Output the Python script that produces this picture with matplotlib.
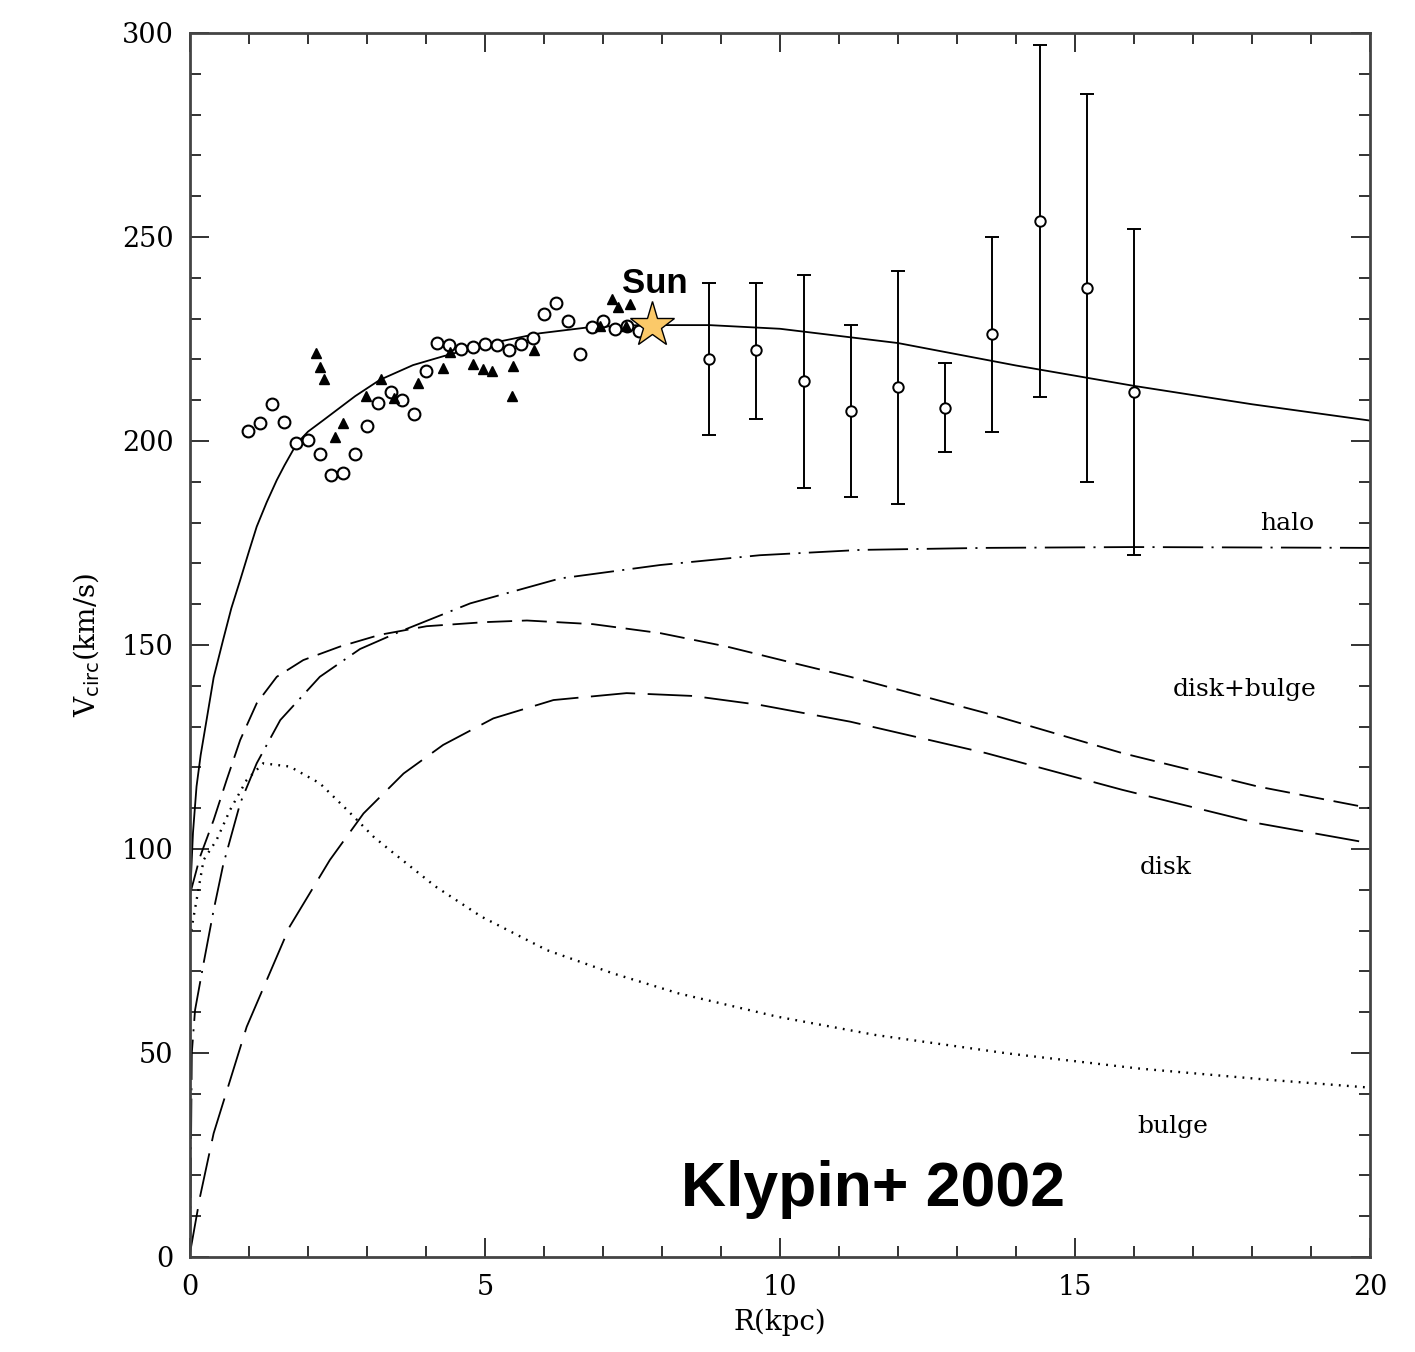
import numpy as np
import matplotlib
matplotlib.use("Agg")
import matplotlib.pyplot as plt
from matplotlib.ticker import MultipleLocator

plt.rcParams['lines.scale_dashes'] = False

# open circles (HI / CO terminal velocities)
R_circ = [0.98, 1.19, 1.39, 1.59, 1.80, 2.0, 2.2, 2.39, 2.59, 2.80, 3.0, 3.19, 3.41, 3.59, 3.80,
          4.0, 4.19, 4.39, 4.59, 4.80, 5.0, 5.2, 5.41, 5.61, 5.81, 6.0, 6.2, 6.41, 6.61, 6.81,
          7.0, 7.2, 7.41, 7.61]
V_circ = [202.5, 204.4, 209, 204.7, 199.5, 200.2, 196.8, 191.7, 192.2, 196.8, 203.7, 209.3, 212, 210, 206.6,
          217.2, 224, 223.5, 222.5, 223, 223.8, 223.5, 222.3, 223.8, 225.2, 231.1, 233.8, 229.4, 221.3, 228,
          229.4, 227.5, 228.2, 227]

# filled triangles
R_tri = [2.14, 2.2, 2.27, 2.46, 2.59, 2.98, 3.24, 3.45, 3.86, 4.29, 4.41, 4.80, 4.97, 5.12, 5.47, 5.46,
         5.83, 7.15, 7.25, 7.46, 7.39, 6.95]
V_tri = [221.6, 218.1, 215.2, 201, 204.4, 211, 215.2, 210.5, 214.2, 217.9, 221.8, 218.9, 217.6, 217.2, 218.4, 211,
         222.3, 234.8, 232.8, 233.6, 228.2, 228.2]

# outer points with error bars
R_err = [8.8, 9.6, 10.4, 11.2, 12.0, 12.8, 13.6, 14.4, 15.2, 16.0]
V_err = [220.1, 222.3, 214.7, 207.4, 213.2, 208.1, 226.2, 253.9, 237.5, 212.0]
V_hi = [238.7, 238.7, 240.7, 228.4, 241.7, 219.1, 250.0, 297.0, 285.0, 252.0]
V_lo = [201.5, 205.4, 188.5, 186.3, 184.6, 197.3, 202.2, 210.8, 190.0, 172.0]

# model curves
R_total = [0.0, 0.05, 0.11, 0.18, 0.28, 0.4, 0.56, 0.7, 0.85, 1.0, 1.13, 1.3, 1.47, 1.6, 1.81, 2.0,
           2.26, 2.8, 3.22, 3.78, 4.3, 5.08, 5.93, 6.78, 7.63, 8.8, 10.0, 12.0, 14.0, 16.0, 18.0, 20.0]
V_total = [88, 104, 115.3, 123, 131.6, 142, 151.2, 159, 165.9, 173, 179, 185, 190.4, 194, 199.4, 202.3,
           205.1, 211, 215, 218.6, 220.8, 223.9, 226.4, 227.9, 228.4, 228.4, 227.5, 224, 218.5, 213.5, 209, 205]

R_halo = [0.0, 0.03, 0.085, 0.23, 0.4, 0.56, 0.85, 1.13, 1.53, 2.2, 2.88, 3.56, 4.75, 6.27,
          7.97, 9.66, 11.36, 13.5, 16.0, 20.0]
V_halo = [0, 50, 60.5, 72, 85, 96, 111.2, 121, 131.6, 142.2, 149, 153.3, 160.2, 166.3,
          169.6, 172, 173.3, 173.8, 174, 173.8]

R_db = [0.02, 0.17, 0.4, 0.62, 0.85, 1.13, 1.47, 1.92, 2.54, 3.22, 4.01, 5.0, 5.71, 6.83,
        7.97, 9.1, 10.22, 11.19, 13.49, 15.8, 18.1, 20.0]
V_db = [90, 98.1, 107.1, 116.9, 126.7, 135.7, 142.2, 146.3, 149.6, 152.5, 154.6, 155.6, 156, 155.1,
        152.9, 149.6, 145.6, 142.2, 133.3, 123.5, 115.3, 110]

R_disk = [0.0, 0.17, 0.4, 0.96, 1.69, 2.37, 2.94, 3.62, 4.29, 5.14, 6.16, 7.4, 8.53, 9.66,
          11.19, 13.49, 15.8, 18.1, 20.0]
V_disk = [1, 14.8, 30.3, 56.4, 81, 97.3, 108.7, 118.5, 125.5, 132, 136.5, 138.2, 137.5, 135.3,
          131.2, 123.5, 114.5, 106.3, 101.4]

R_bulge = [0.02, 0.23, 0.45, 0.68, 0.96, 1.24, 1.69, 2.2, 2.66, 3.11, 3.38, 4.16, 4.94, 6.05,
           7.17, 8.28, 9.95, 11.62, 13.85, 16.07, 18.3, 20.0]
V_bulge = [80, 97.3, 102.2, 109.6, 116.9, 121, 120.2, 116.1, 109.6, 103, 99.8, 90.8, 83.4, 75.2,
           69.5, 64.6, 58.9, 54.4, 49.9, 46.2, 43.4, 41.5]

R_sun, V_sun = 7.83, 228.4

fig = plt.figure(figsize=(14.15, 13.52), dpi=100)
ax = fig.add_axes([0.1343, 0.0703, 0.8339, 0.9053])

lw = 1.3
ax.plot(R_total, V_total, color='black', lw=lw)
ax.plot(R_halo, V_halo, color='black', lw=lw, ls=(0, (29, 6, 1.5, 6)))
ax.plot(R_db, V_db, color='black', lw=lw, ls=(0, (18, 7)))
ax.plot(R_disk, V_disk, color='black', lw=lw, ls=(0, (32, 9)))
ax.plot(R_bulge, V_bulge, color='black', lw=1.7, ls=(0, (1.3, 4.5)))

ax.plot(R_circ, V_circ, ls='none', marker='o', ms=8.5, mfc='white', mec='black', mew=1.5)
ax.plot(R_tri, V_tri, ls='none', marker='^', ms=6.5, color='black')

yerr = [np.array(V_err) - np.array(V_lo), np.array(V_hi) - np.array(V_err)]
ax.errorbar(R_err, V_err, yerr=yerr, fmt='o', ms=7.5, mfc='white', mec='black', mew=1.4,
            ecolor='black', elinewidth=1.4, capsize=5, capthick=1.4)

ax.plot([R_sun], [V_sun], marker='*', ms=34, mfc='#FBC969', mec='black', mew=1.0, zorder=5)
ax.text(R_sun + 0.05, 238.5, 'Sun', fontsize=25, fontweight='bold', family='Liberation Sans',
        ha='center', va='center')

serif = 'DejaVu Serif'
ax.text(18.6, 179.7, 'halo', fontsize=18, family=serif, ha='center', va='center')
ax.text(17.87, 139.2, 'disk+bulge', fontsize=18, family=serif, ha='center', va='center')
ax.text(16.54, 95.5, 'disk', fontsize=18, family=serif, ha='center', va='center')
ax.text(16.66, 31.9, 'bulge', fontsize=18, family=serif, ha='center', va='center')

ax.text(11.57, 16.5, 'Klypin+ 2002', fontsize=45, fontweight='bold', family='Liberation Sans',
        ha='center', va='center')

ax.set_xlim(0, 20)
ax.set_ylim(0, 300)
ax.xaxis.set_major_locator(MultipleLocator(5))
ax.xaxis.set_minor_locator(MultipleLocator(1))
ax.yaxis.set_major_locator(MultipleLocator(50))
ax.yaxis.set_minor_locator(MultipleLocator(10))
ax.tick_params(which='both', direction='in', top=True, right=True, width=1.3, color='#222222')
ax.tick_params(which='major', length=14, labelsize=19.5, pad=12)
ax.tick_params(which='minor', length=8)
for lab in ax.get_xticklabels() + ax.get_yticklabels():
    lab.set_family(serif)
for s in ax.spines.values():
    s.set_linewidth(2)
    s.set_color('#444444')

ax.set_xlabel('R(kpc)', fontsize=20, family=serif, labelpad=6)
ax.set_ylabel(r'V$_{\mathsf{circ}}$(km/s)', fontsize=20, family=serif, labelpad=14)

fig.savefig('out.png', dpi=100)
